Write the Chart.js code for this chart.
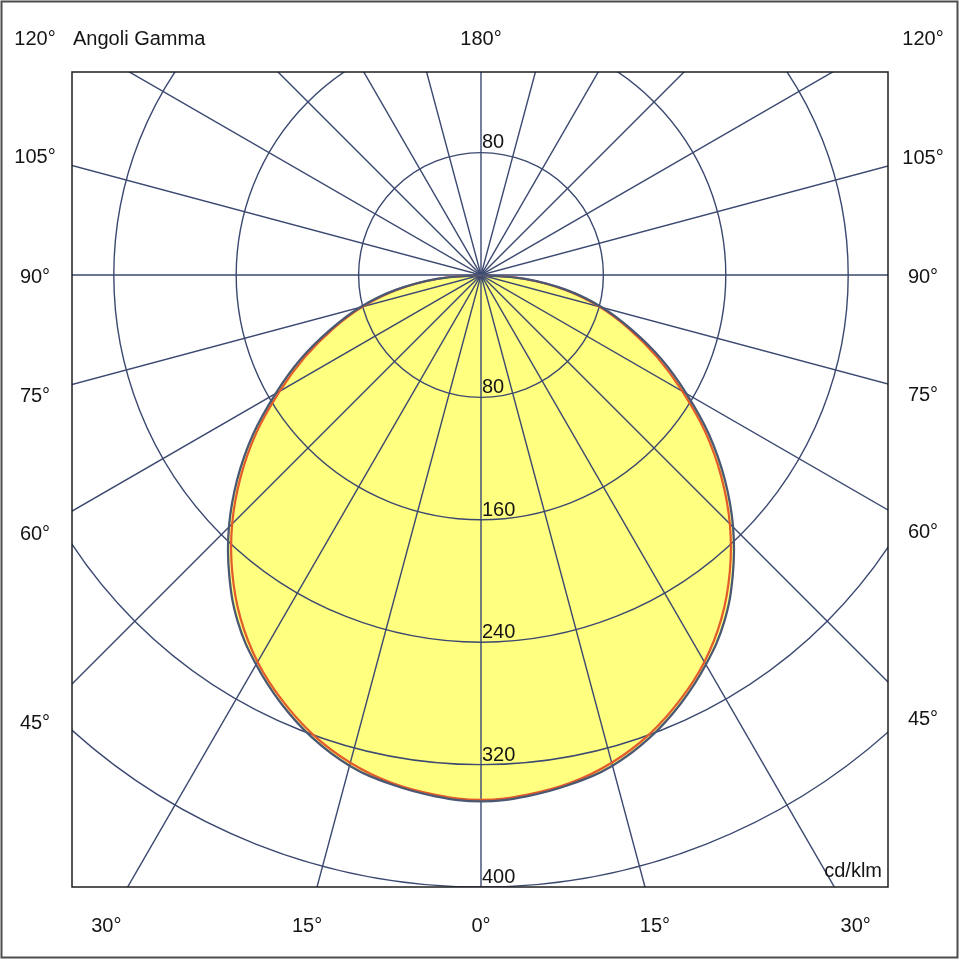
<!DOCTYPE html>
<html>
<head>
<meta charset="utf-8">
<script src="https://cdn.jsdelivr.net/npm/chart.js@4.4.1/dist/chart.umd.min.js"></script>
<style>
html,body{margin:0;padding:0;background:#ffffff;}
#wrap{width:960px;height:960px;position:relative;}
</style>
</head>
<body>
<div id="wrap"><canvas id="c" width="960" height="960"></canvas></div>
<script>
// ---- data (cd/klm) ----
const gammaAngles = [0,5,10,15,20,25,30,35,40,45,50,55,60,65,70,75,80,85,90];
const planeC0C180  = [343,341,337,330,320,307,292,274,253,230,205,179,152,127,103,80,56,28,0];
const planeC90C270 = [344,342,338,332,322,309,294,277,256,233,208,182,155,130,105,82,57,29,0];
const ringValues = [80,160,240,320,400];
const radialAngles = [0,15,30,45,60,75,90,105,120,135,150,165];
const sideLabelAngles = [120,105,90,75,60,45];
const bottomLabelAngles = [-30,-15,0,15,30];
const topLabel = '180°';
const titleText = 'Angoli Gamma';
const unitText = 'cd/klm';

// ---- helpers ----
function toXY(values, sign) {
  return gammaAngles.map((g, i) => {
    const a = g * Math.PI / 180;
    return {x: sign * values[i] * Math.sin(a), y: -values[i] * Math.cos(a)};
  });
}
function curve(values) {
  const left = toXY(values, -1).reverse();
  const right = toXY(values, 1).slice(1);
  return left.concat(right);
}

const FONT = '20px "Liberation Sans", Arial, sans-serif';
const GRID = '#3b4870';

const polarPlugin = {
  id: 'polarGrid',
  afterDatasetDraw(chart, args) {
    if (args.index !== 2) return;
    const {ctx, chartArea: ca, scales: {x, y}} = chart;
    const cx = x.getPixelForValue(0), cy = y.getPixelForValue(0);
    ctx.save();
    ctx.beginPath();
    ctx.rect(ca.left, ca.top, ca.right - ca.left, ca.bottom - ca.top);
    ctx.clip();
    ctx.strokeStyle = GRID;
    ctx.lineWidth = 1.4;
    ringValues.forEach(r => {
      const rp = x.getPixelForValue(r) - cx;
      ctx.beginPath();
      ctx.arc(cx, cy, rp, 0, Math.PI * 2);
      ctx.stroke();
    });
    radialAngles.forEach(g => {
      const a = g * Math.PI / 180;
      const L = 1500;
      ctx.beginPath();
      ctx.moveTo(cx - L * Math.sin(a), cy - L * Math.cos(a));
      ctx.lineTo(cx + L * Math.sin(a), cy + L * Math.cos(a));
      ctx.stroke();
    });
    ctx.restore();
  },
  afterDraw(chart) {
    const {ctx, chartArea: ca, scales: {x, y}} = chart;
    const cx = x.getPixelForValue(0), cy = y.getPixelForValue(0);
    ctx.save();
    // plot frame
    ctx.strokeStyle = '#1e1e1e';
    ctx.lineWidth = 1.5;
    ctx.strokeRect(ca.left, ca.top, ca.right - ca.left, ca.bottom - ca.top);
    // outer frame
    ctx.strokeStyle = '#4d4d4d';
    ctx.lineWidth = 2;
    ctx.strokeRect(1.5, 1.5, chart.width - 4, chart.height - 4);

    ctx.fillStyle = '#151515';
    ctx.font = FONT;
    // ring labels
    ctx.textAlign = 'left';
    ctx.textBaseline = 'alphabetic';
    ringValues.forEach(r => {
      const by = y.getPixelForValue(-r) - 4;
      if (by <= ca.bottom) ctx.fillText(String(r), cx + 1, by);
      const ty = y.getPixelForValue(r) - 5;
      if (ty - 14 >= ca.top) ctx.fillText(String(r), cx + 1, ty);
    });
    // unit
    ctx.textAlign = 'right';
    ctx.fillText(unitText, ca.right - 6, ca.bottom - 10);
    // title row
    ctx.textAlign = 'left';
    ctx.textBaseline = 'middle';
    const topRow = ca.top - 33;
    ctx.fillText(titleText, ca.left + 1, topRow);
    ctx.textAlign = 'center';
    ctx.fillText(topLabel, cx, topRow);
    // side labels
    const leftX = ca.left - 37, rightX = ca.right + 35;
    const dl = cx - leftX, dr = rightX - cx;
    sideLabelAngles.forEach(g => {
      const a = g * Math.PI / 180;
      const t = `${g}°`;
      let yl = cy + dl * Math.cos(a) / Math.sin(a) + 2;
      let yr = cy + dr * Math.cos(a) / Math.sin(a) + 2;
      yl = Math.max(yl, topRow); yr = Math.max(yr, topRow);
      ctx.fillText(t, leftX, yl);
      ctx.fillText(t, rightX, yr);
    });
    // bottom labels
    const botY = ca.bottom + 39;
    const dy = botY - 2 - cy;
    bottomLabelAngles.forEach(g => {
      const a = g * Math.PI / 180;
      ctx.fillText(`${Math.abs(g)}°`, cx + dy * Math.tan(a), botY);
    });
    ctx.restore();
  }
};

const PX = 612 / 400; // px per cd/klm at this layout (only for axis range)
new Chart(document.getElementById('c'), {
  type: 'line',
  data: {
    datasets: [
      {label: 'C90-C270', data: curve(planeC90C270), borderColor: '#4a5873', borderWidth: 2.3,
       fill: false, pointRadius: 0, tension: 0.4, order: 0},
      {label: 'C0-C180', data: curve(planeC0C180), borderColor: '#e35b2b', borderWidth: 2.2,
       fill: false, pointRadius: 0, tension: 0.4, order: 1},
      {label: 'area', data: curve(planeC90C270), borderWidth: 0, borderColor: 'rgba(0,0,0,0)',
       backgroundColor: '#ffff80', fill: 'shape', pointRadius: 0, tension: 0.4, order: 2}
    ]
  },
  options: {
    responsive: false,
    animation: false,
    layout: {padding: {left: 72, right: 72, top: 72, bottom: 73}},
    plugins: {legend: {display: false}, tooltip: {enabled: false}},
    events: [],
    scales: {
      x: {type: 'linear', display: false, min: -409 / PX, max: 407 / PX},
      y: {type: 'linear', display: false, min: -400, max: 203 / PX}
    }
  },
  plugins: [polarPlugin]
});
</script>
</body>
</html>
